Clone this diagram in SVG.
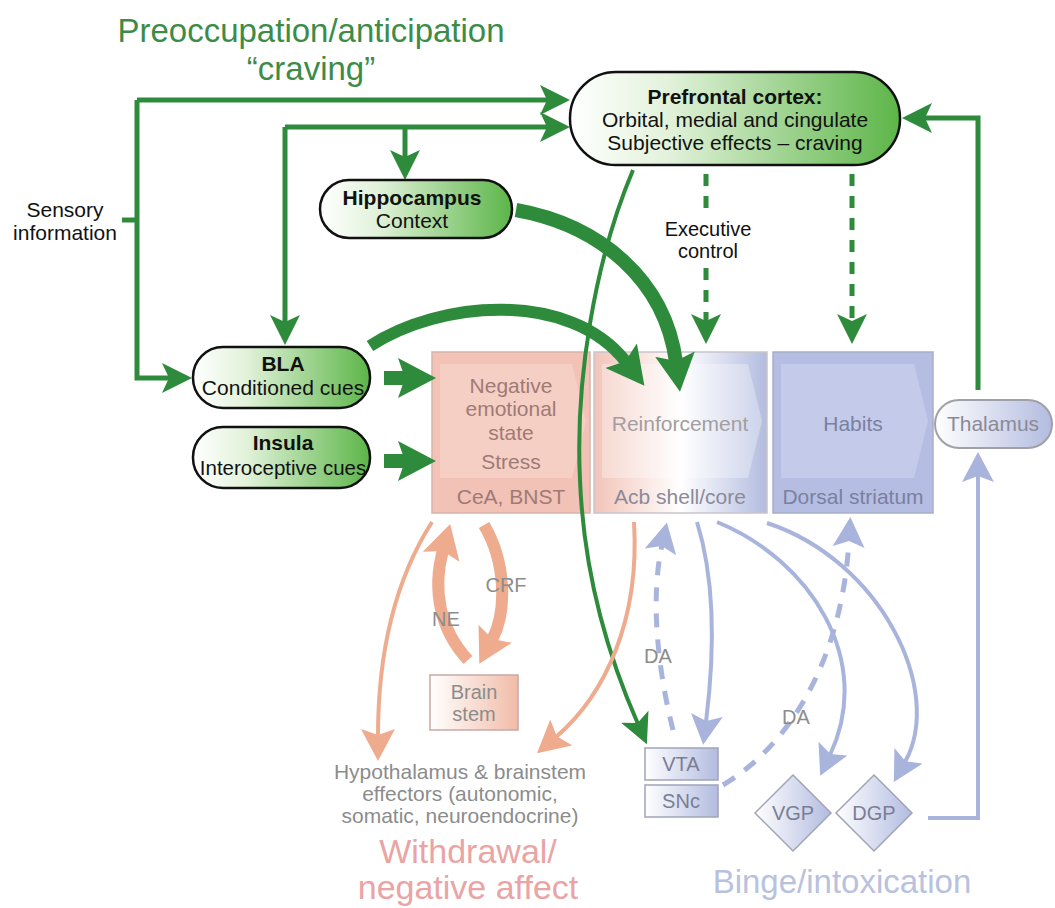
<svg xmlns="http://www.w3.org/2000/svg" width="1055" height="908" viewBox="0 0 1055 908">
<style>
text{font-family:"Liberation Sans",Arial,sans-serif;text-anchor:middle}
.g{fill:none;stroke:#2e8b3c;stroke-width:5}
.gt{fill:none;stroke:#2e8b3c;stroke-width:13}
.p{fill:none;stroke:#eeab8e;stroke-width:4}
.pt{fill:none;stroke:#eeab8e;stroke-width:12}
.b{fill:none;stroke:#a9b4dc;stroke-width:4}
.bd{fill:none;stroke:#a9b4dc;stroke-width:5;stroke-dasharray:14 12}
.pill{stroke:#111;stroke-width:2.5;fill:url(#gg)}
.nt{font-size:21px;fill:#111}
.nb{font-size:21px;fill:#111;font-weight:bold}
.gray{font-size:21px;fill:#8c8c8c}
.lab{font-size:20px;fill:#8c8c8c}
.bl{fill:url(#bg);stroke:#a0a4b8;stroke-width:1.5}
.bt{font-size:20px;fill:#7a7e94}
.big{font-size:33px}
</style>
<defs>
<linearGradient id="gg" x1="0" x2="1" y1="0" y2="0"><stop offset="0" stop-color="#ffffff"/><stop offset="0.3" stop-color="#e2f2da"/><stop offset="1" stop-color="#5cb548"/></linearGradient>
<linearGradient id="bg" x1="0" x2="1" y1="0" y2="0"><stop offset="0" stop-color="#ffffff"/><stop offset="1" stop-color="#b3bce0"/></linearGradient>
<linearGradient id="pg" x1="0" x2="1" y1="0" y2="0"><stop offset="0" stop-color="#ffffff"/><stop offset="1" stop-color="#f1bca8"/></linearGradient>
<linearGradient id="mix" x1="0" x2="1" y1="0" y2="0"><stop offset="0" stop-color="#f2c4b8"/><stop offset="0.5" stop-color="#ffffff"/><stop offset="1" stop-color="#b3bce0"/></linearGradient>
<marker id="gh" markerUnits="userSpaceOnUse" markerWidth="30" markerHeight="30" refX="8" refY="15" orient="auto"><path d="M0,0 L30,15 L0,30 L7,15z" fill="#2e8b3c"/></marker>
<marker id="gb" markerUnits="userSpaceOnUse" markerWidth="40" markerHeight="40" refX="8" refY="20" orient="auto"><path d="M0,0 L38,20 L0,40 L7,20z" fill="#2e8b3c"/></marker>
<marker id="ph" markerUnits="userSpaceOnUse" markerWidth="34" markerHeight="34" refX="7" refY="17" orient="auto"><path d="M0,0 L32,17 L0,34 L6,17z" fill="#eeab8e"/></marker>
<marker id="pb" markerUnits="userSpaceOnUse" markerWidth="36" markerHeight="38" refX="7" refY="19" orient="auto"><path d="M0,0 L34,19 L0,38 L6,19z" fill="#eeab8e"/></marker>
<marker id="bh" markerUnits="userSpaceOnUse" markerWidth="32" markerHeight="32" refX="7" refY="16" orient="auto"><path d="M0,0 L30,16 L0,32 L6,16z" fill="#a9b4dc"/></marker>
</defs>
<rect width="1055" height="908" fill="#fff"/>

<g id="box-cea">
<rect x="432" y="352" width="158" height="161" fill="#f1c2b5" stroke="#d6b4ac" stroke-width="1.5"/>
<polygon points="440,364 572,364 586,421 572,478 440,478" fill="#f5cfc4"/>
<text x="511" y="393" style="font-size:21px;fill:#a07a76">Negative</text>
<text x="511" y="416" style="font-size:21px;fill:#a07a76">emotional</text>
<text x="511" y="440" style="font-size:21px;fill:#a07a76">state</text>
<text x="511" y="469" style="font-size:21px;fill:#a07a76">Stress</text>
<text x="511" y="504" style="font-size:21px;fill:#a07a76">CeA, BNST</text>
</g>
<g id="box-acb">
<rect x="594" y="352" width="173" height="161" fill="url(#mix)" stroke="#c8c4cc" stroke-width="1.5"/>
<polygon points="602,364 748,364 762,421 748,478 602,478" fill="#ffffff" opacity="0.3"/>
<text x="680" y="431" style="font-size:21px;fill:#a39ea2">Reinforcement</text>
<text x="680" y="504" style="font-size:21px;fill:#8c8a98">Acb shell/core</text>
</g>
<g id="box-dorsal">
<rect x="773" y="352" width="160" height="161" fill="#b5bee2" stroke="#a8aec8" stroke-width="1.5"/>
<polygon points="781,364 914,364 928,421 914,478 781,478" fill="#c3caea"/>
<text x="853" y="431" style="font-size:21px;fill:#7a80a0">Habits</text>
<text x="853" y="504" style="font-size:21px;fill:#7a80a0">Dorsal striatum</text>
</g>
<g id="thalamus">
<rect x="935" y="400" width="117" height="48" rx="24" fill="url(#bg)" stroke="#a0a0a8" stroke-width="2"/>
<text x="993" y="431" style="font-size:21px;fill:#8a8a96">Thalamus</text>
</g>
<g id="brainstem">
<rect x="430" y="675" width="88" height="55" fill="url(#pg)" stroke="#c8a8a8" stroke-width="1.5"/>
<text x="474" y="699" class="lab">Brain</text>
<text x="474" y="721" class="lab">stem</text>
</g>
<g id="vta">
<rect x="645" y="748" width="73" height="32" class="bl"/>
<text x="681" y="771" class="bt">VTA</text>
</g>
<g id="snc">
<rect x="645" y="785" width="73" height="32" class="bl"/>
<text x="681" y="808" class="bt">SNc</text>
</g>
<g id="vgp">
<polygon points="793,775 831,813 793,851 755,813" class="bl"/>
<text x="793" y="820" class="bt">VGP</text>
</g>
<g id="dgp">
<polygon points="874,775 912,813 874,851 836,813" class="bl"/>
<text x="874" y="820" class="bt">DGP</text>
</g>

<g id="connectors">
<path class="g" d="M137 100 L137 378 L170 378" marker-end="url(#gh)"/>
<path class="g" d="M137 100 L548 100" marker-end="url(#gh)"/>
<path class="g" d="M122 220 L137 220"/>
<path class="g" d="M285 127 L285 323" marker-end="url(#gh)"/>
<path class="g" d="M285 127 L548 127" marker-end="url(#gh)"/>
<path class="g" d="M405 127 L405 158" marker-end="url(#gh)"/>
<path class="g" d="M978 390 L978 118 L924 118" marker-end="url(#gh)"/>
<path class="g" d="M706 174 L706 216" stroke-dasharray="12 10"/>
<path class="g" d="M706 268 L706 322" stroke-dasharray="12 10" marker-end="url(#gh)"/>
<path class="g" d="M852 174 L852 322" stroke-dasharray="12 10" marker-end="url(#gh)"/>
<path class="g" style="stroke-width:14" d="M384 378 L406 378" marker-end="url(#gb)"/>
<path class="g" style="stroke-width:14" d="M384 461 L406 461" marker-end="url(#gb)"/>
<path class="gt" style="stroke-width:12" d="M370 346 C440 300 570 290 626 362" marker-end="url(#gb)"/>
<path class="gt" style="stroke-width:14" d="M516 210 C600 225 665 280 676 362" marker-end="url(#gb)"/>
<path class="g" style="stroke-width:4" d="M633 170 C595 260 575 380 580 480 C584 580 612 665 638 724" marker-end="url(#gh)"/>
<path class="p" d="M432 522 C395 580 378 650 378 736" marker-end="url(#ph)"/>
<path class="pt" d="M468 660 C440 630 432 590 443 550" marker-end="url(#pb)"/>
<path class="pt" d="M484 525 C505 560 508 610 492 640" marker-end="url(#pb)"/>
<path class="p" d="M634 522 C640 620 605 695 556 737" marker-end="url(#ph)"/>
<path class="bd" d="M673 730 C658 670 650 600 662 545" marker-end="url(#bh)"/>
<path class="b" d="M697 522 C715 580 715 650 706 722" marker-end="url(#bh)"/>
<path class="b" d="M717 522 C810 560 875 660 830 755" marker-end="url(#bh)"/>
<path class="b" d="M767 523 C880 560 945 690 905 762" marker-end="url(#bh)"/>
<path class="bd" d="M723 785 C790 745 842 660 849 540" marker-end="url(#bh)"/>
<path class="b" d="M928 818 L978 818 L978 475" marker-end="url(#bh)"/>
</g>

<g id="labels">
<text x="311" y="42" class="big" style="fill:#3c8c48">Preoccupation/anticipation</text>
<text x="311" y="80" class="big" style="fill:#3c8c48">“craving”</text>
<text x="468" y="863" style="font-size:34px;fill:#eaa4a4">Withdrawal/</text>
<text x="468" y="899" style="font-size:34px;fill:#eaa4a4">negative affect</text>
<text x="842" y="893" class="big" style="fill:#b8c2de">Binge/intoxication</text>
<text x="65" y="217" style="font-size:21px;fill:#111">Sensory</text>
<text x="65" y="240" style="font-size:21px;fill:#111">information</text>
<text x="708" y="236" style="font-size:20px;fill:#111">Executive</text>
<text x="708" y="258" style="font-size:20px;fill:#111">control</text>
<text x="506" y="592" class="lab">CRF</text>
<text x="446" y="626" class="lab">NE</text>
<text x="658" y="663" class="lab">DA</text>
<text x="796" y="724" class="lab">DA</text>
<text x="460" y="779" class="gray">Hypothalamus &amp; brainstem</text>
<text x="460" y="801" class="gray">effectors (autonomic,</text>
<text x="460" y="823" class="gray">somatic, neuroendocrine)</text>
</g>

<g id="pfc">
<rect x="570" y="72" width="330" height="93" rx="46" class="pill"/>
<text x="735" y="104" class="nb">Prefrontal cortex:</text>
<text x="735" y="127" class="nt">Orbital, medial and cingulate</text>
<text x="735" y="150" class="nt">Subjective effects – craving</text>
</g>
<g id="hippocampus">
<rect x="320" y="180" width="192" height="58" rx="29" class="pill"/>
<text x="412" y="205" class="nb">Hippocampus</text>
<text x="412" y="228" class="nt">Context</text>
</g>
<g id="bla">
<rect x="193" y="347" width="177" height="61" rx="30" class="pill"/>
<text x="283" y="371" class="nb">BLA</text>
<text x="283" y="395" class="nt">Conditioned cues</text>
</g>
<g id="insula">
<rect x="193" y="427" width="177" height="61" rx="30" class="pill"/>
<text x="283" y="450" class="nb">Insula</text>
<text x="283" y="475" style="font-size:20.5px;fill:#111">Interoceptive cues</text>
</g>
</svg>
